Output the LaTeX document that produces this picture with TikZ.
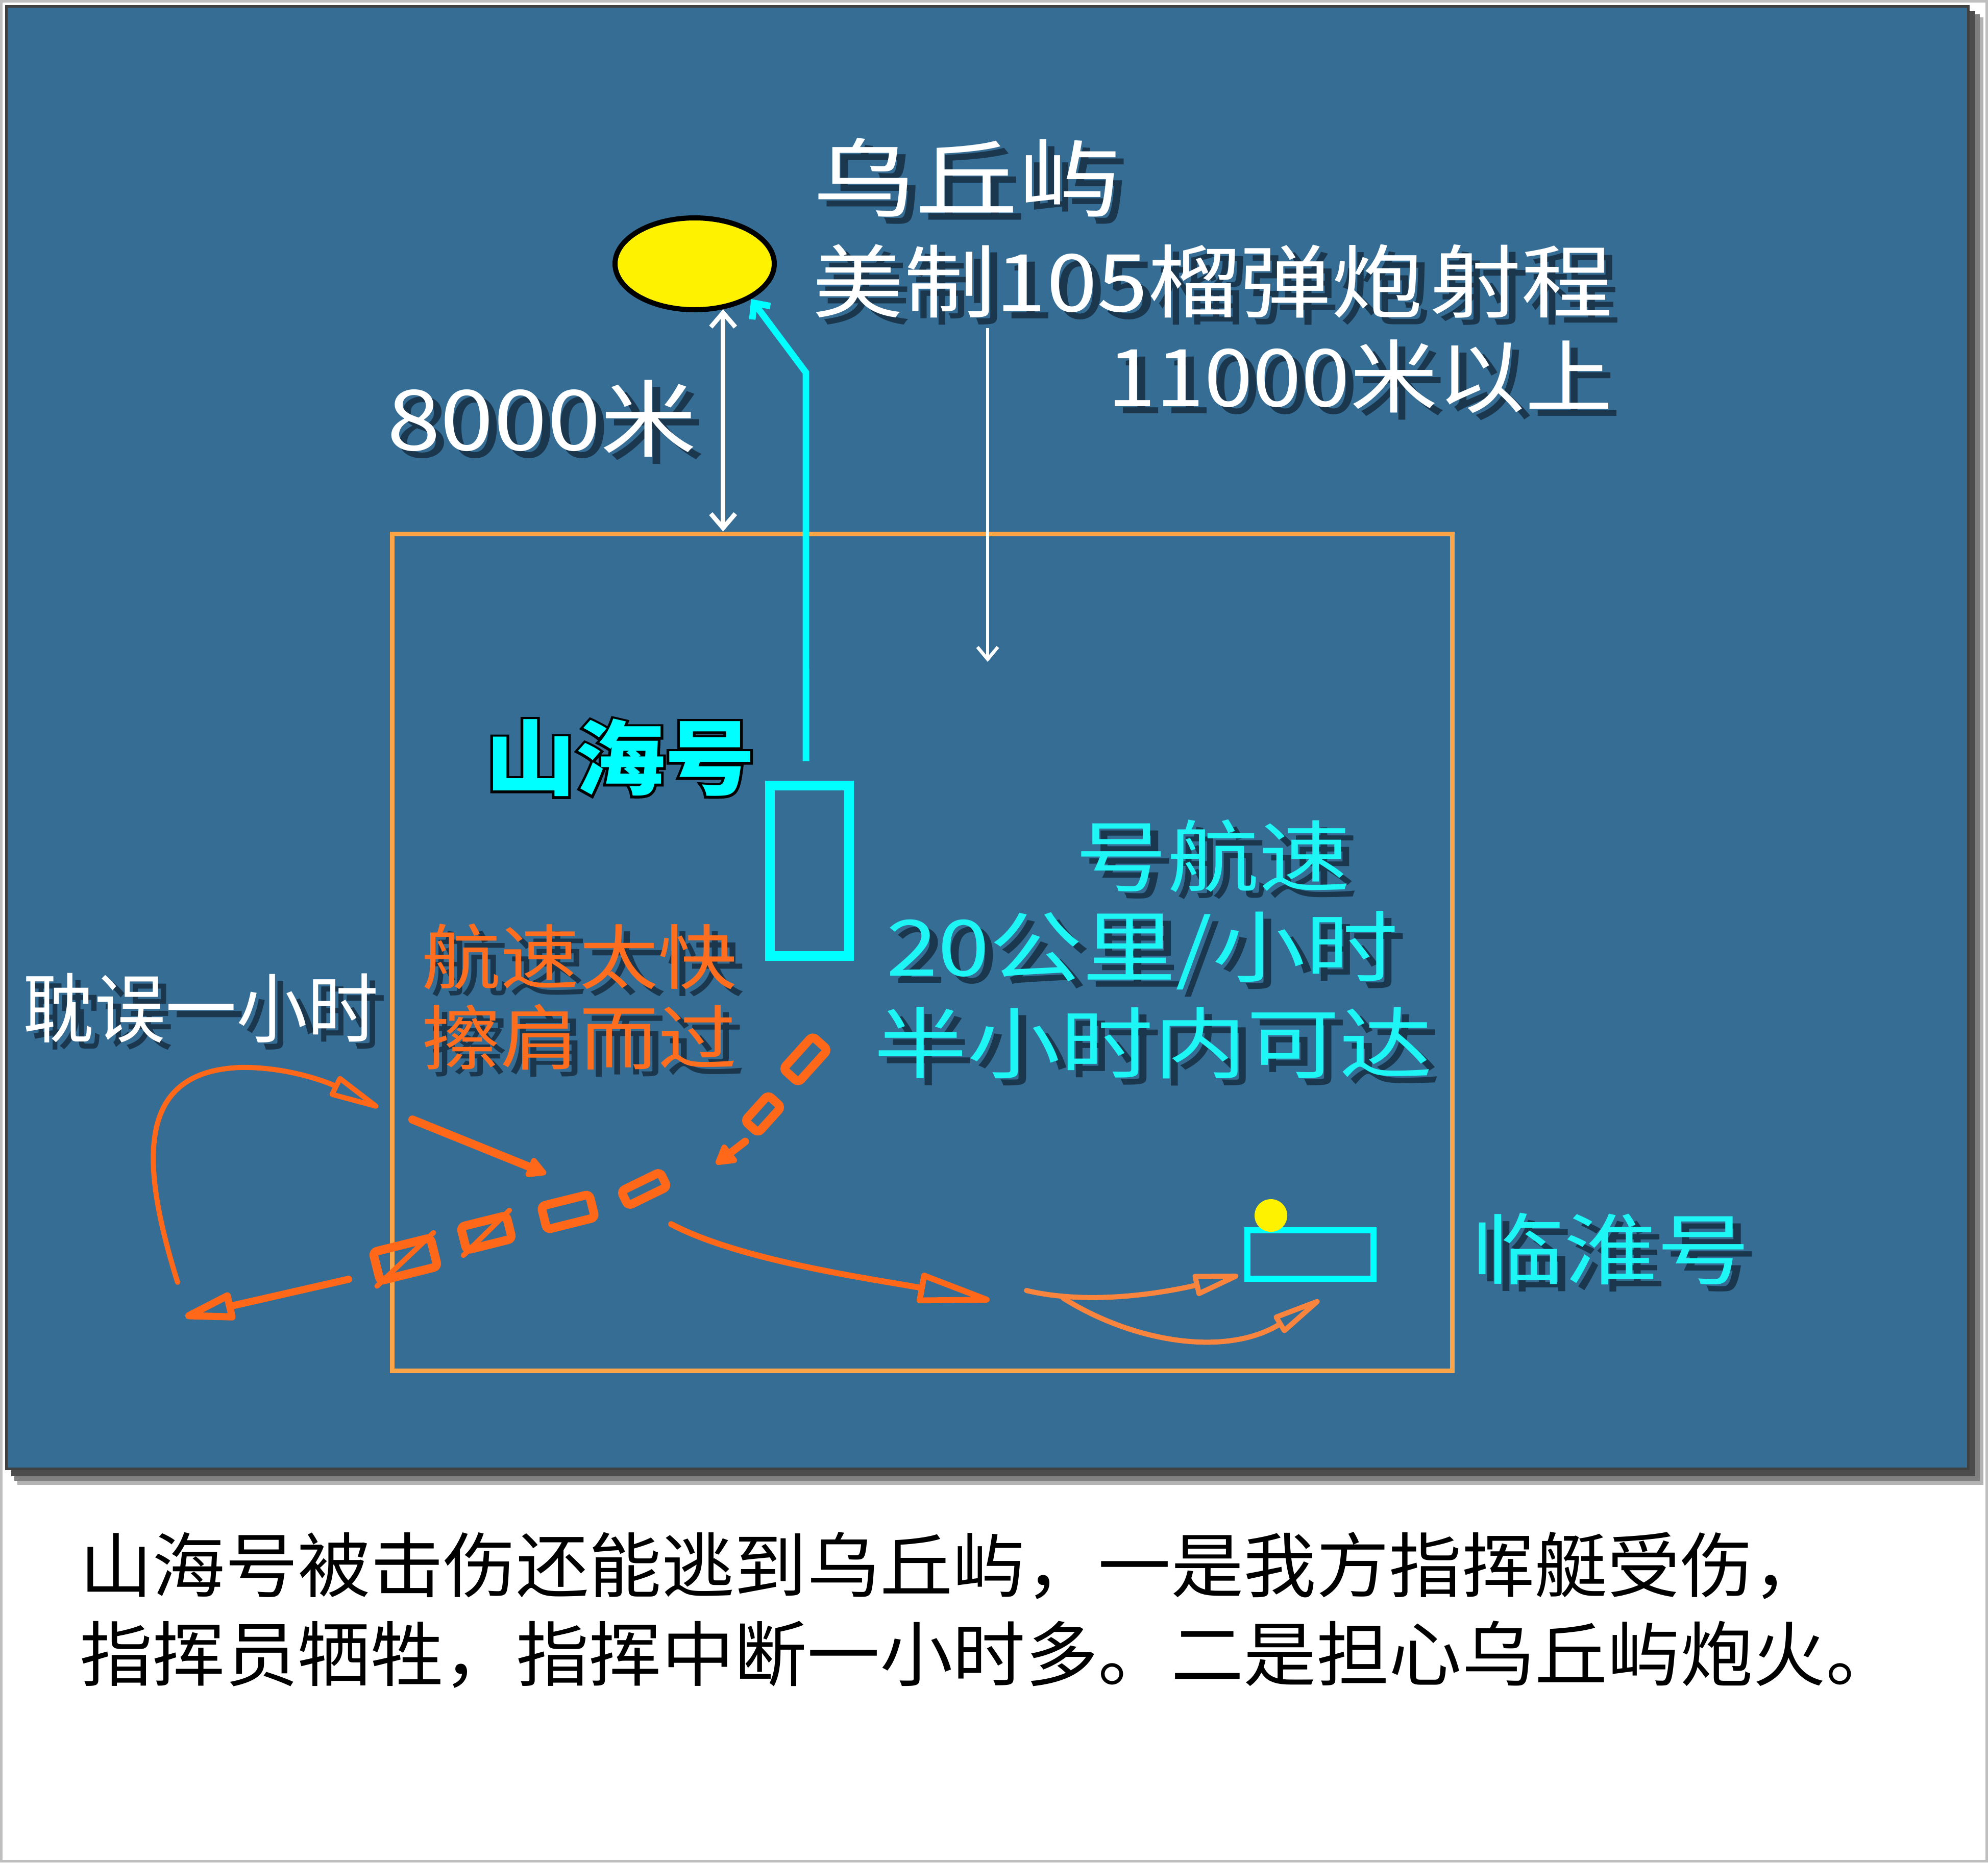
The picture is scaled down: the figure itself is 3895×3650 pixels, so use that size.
\documentclass[tikz,border=0pt]{standalone}
\usepackage{fontspec}
\usepackage{graphicx}
\usetikzlibrary{arrows.meta,shapes.geometric}
\setmainfont{Noto Sans CJK SC}
\newfontfamily\cjk{Noto Sans CJK SC}
\newfontfamily\cjkout{Noto Sans CJK SC}[FakeBold=6]
\definecolor{panelblue}{RGB}{54,109,149}
\definecolor{boxorange}{RGB}{250,166,72}
\definecolor{arrorange}{RGB}{255,104,24}
\definecolor{lightorange}{RGB}{248,132,62}
\definecolor{txtorange}{RGB}{255,110,30}
\definecolor{txtcyan}{RGB}{30,245,245}
\definecolor{shipcyan}{RGB}{0,255,255}
\definecolor{shadowc}{RGB}{22,46,66}
\newcommand{\sx}[2]{\scalebox{#1}[1]{#2}}
\newcommand{\shtext}[4]{%
  \node[#1, text=shadowc, text opacity=0.85, xshift=4pt, yshift=-3.5pt] at #3 {#4};
  \node[#1] (#2) at #3 {#4};
}
\begin{document}
\begin{tikzpicture}[x=0.25pt,y=-0.25pt,
  lbl/.style={inner sep=0pt, outer sep=0pt},
  dashship/.style={draw=arrorange, line width=4.25pt, rounded corners=2pt, inner sep=0pt, rectangle},
  arrO/.style={draw=arrorange, line width=2.5pt, line cap=round},
  arrL/.style={draw=lightorange, line width=2.5pt, line cap=round},
  whitearr/.style={draw=white, line width=2.2pt},
]
\useasboundingbox (0,0) rectangle (3895,3650);
\fill[white] (0,0) rectangle (3895,3650);
\draw[black!25, line width=1.25pt] (2.5,2.5) rectangle (3892.5,3647.5);
% panel shadow
\fill[black!30] (34,34) rectangle (3886,2910);
\fill[black!50] (28,28) rectangle (3879,2902);
\fill[black!70] (22,22) rectangle (3870,2893);
% panel
\filldraw[fill=panelblue, draw=black!75, line width=1.25pt] (12.5,12.5) rectangle (3856,2878);

% outer orange box
\node[draw=boxorange, line width=2.25pt, minimum width=519.25pt, minimum height=410pt, inner sep=0pt] (box) at (1806.5,1866) {};

% island
\node[ellipse, draw=black, fill=yellow, line width=2.5pt, minimum width=78pt, minimum height=45pt, inner sep=0pt] (island) at (1361,517) {};

% texts top
\shtext{lbl, text=white, anchor=west, font=\cjk\fontsize{42pt}{50pt}\selectfont}{wuqiu}{(1592,348)}{\sx{1.2}{乌丘屿}}
\shtext{lbl, text=white, anchor=east, font=\cjk\fontsize{39pt}{46pt}\selectfont}{range}{(3160,551)}{\sx{1.15}{美制105榴弹炮\hspace{3pt}射程}}
\shtext{lbl, text=white, anchor=east, font=\cjk\fontsize{39pt}{46pt}\selectfont}{rangeb}{(3160,738)}{\sx{1.1}{11000米以上}}
\shtext{lbl, text=white, anchor=west, font=\cjk\fontsize{41pt}{48pt}\selectfont}{dist}{(758,820)}{\sx{1.15}{8000米}}

% white double arrow island - box
\draw[whitearr, arrows={Straight Barb[length=7pt,width=12pt]-Straight Barb[length=7pt,width=12pt]}] (island.-58) -- (island.-58 |- box.north);

% white down arrow
\coordinate (downend) at (1935,1297);
\draw[whitearr, line width=1.6pt, arrows={-Straight Barb[length=6pt,width=10pt]}] ([yshift=-5pt]range.south -| downend) -- (downend);

% Shanhai ship
\node[draw=shipcyan, line width=4.75pt, minimum width=38.75pt, minimum height=83.5pt, inner sep=0pt] (shanhai) at (1585.5,1706) {};
\coordinate (kink) at (1579,730);
\draw[draw=shipcyan, line width=3.2pt, arrows={-Straight Barb[length=6pt,width=11pt]}] ([shift={(-1.6pt,9.5pt)}]shanhai.north) -- (kink) -- (island.-32);

% Shanhai label with black outline
\node[lbl, anchor=west, text=black, font=\cjkout\bfseries\fontsize{40pt}{48pt}\selectfont] at (951,1485) {\sx{1.1}{山海号}};
\node[lbl, anchor=west, text=shipcyan, font=\cjk\bfseries\fontsize{40pt}{48pt}\selectfont] (shanhaiLbl) at (951,1485) {\sx{1.1}{山海号}};

% cyan texts
\shtext{lbl, text=txtcyan, font=\cjk\fontsize{38pt}{46pt}\selectfont}{spd1}{(2377,1677)}{\sx{1.18}{号航速}}
\shtext{lbl, text=txtcyan, font=\cjk\fontsize{38pt}{46pt}\selectfont}{spd2}{(2238,1863)}{\sx{1.2}{20公里/小时}}
\shtext{lbl, text=txtcyan, font=\cjk\fontsize{38pt}{46pt}\selectfont}{spd3}{(2260,2044)}{\sx{1.2}{半小时内可达}}

% orange texts
\shtext{lbl, text=txtorange, anchor=west, font=\cjk\fontsize{34.5pt}{42pt}\selectfont}{fast1}{(826,1875)}{\sx{1.12}{航速太快}}
\shtext{lbl, text=txtorange, anchor=west, font=\cjk\fontsize{34.5pt}{42pt}\selectfont}{fast2}{(826,2032)}{\sx{1.12}{擦肩而过}}

% delay text
\shtext{lbl, text=white, anchor=west, font=\cjk\fontsize{37pt}{44pt}\selectfont}{delay}{(46,1975)}{\sx{0.94}{耽误一小时}}

% Linhuai ship
\node[draw=shipcyan, line width=2.9pt, minimum width=61.75pt, minimum height=23.75pt, inner sep=0pt] (linhuai) at (2567.5,2458.5) {};
\node[circle, fill=yellow, minimum size=16pt, inner sep=0pt] (flag) at (2490,2382) {};
\shtext{lbl, text=txtcyan, anchor=west, font=\cjk\fontsize{38pt}{46pt}\selectfont}{linhuaiLbl}{(2882,2447)}{\sx{1.2}{临淮号}}

% dashed ship trail (diagonal)
\node[dashship, minimum width=21.5pt, minimum height=10pt, rotate=48] (r1) at (1578,2076) {};
\node[dashship, minimum width=17pt, minimum height=8.75pt, rotate=48] (r2) at (1495,2183) {};
\draw[arrO, line width=3.75pt, arrows={-Triangle[length=11pt,width=12pt,round]}] (1460,2237) -- (1403,2281);

% dashed ship trail (row)
\node[dashship, minimum width=21.25pt, minimum height=8pt, rotate=26] (sa) at (1262,2330) {};
\node[dashship, minimum width=24.25pt, minimum height=11.75pt, rotate=14] (sb) at (1113,2375) {};
\node[dashship, minimum width=23pt, minimum height=11.75pt, rotate=14] (sc) at (953,2416) {};
\node[dashship, minimum width=29pt, minimum height=14.5pt, rotate=14] (sd) at (794,2468) {};
\draw[arrO, line width=2.5pt] (sc.south west) -- (sc.north east);
\draw[arrO, line width=2.5pt] (sd.south west) -- (sd.north east);

% straight thick arrow toward trail
\draw[arrO, line width=4pt, arrows={-Triangle[length=11pt,width=11pt,round]}] (808,2194) -- (1070,2300);

% left arrow
\draw[arrO, line width=3.5pt, arrows={-Triangle[open,round,length=30pt,width=14pt]}] (683,2507) -- (363,2580);

% loop arrow
\draw[arrO, arrows={-Triangle[open,round,length=30pt,width=11pt]}] (348,2513) .. controls (275,2280) and (265,2100) .. (470,2092) .. controls (560,2090) and (640,2120) .. (741,2170);

% curve to the right
\draw[arrO, line width=2.9pt, arrows={-Triangle[open,round,length=42pt,width=15pt]}] (1315,2399) .. controls (1450,2470) and (1700,2505) .. (1939,2548);

% curve to Linhuai
\draw[arrL, arrows={-Triangle[open,round,length=27pt,width=11pt]}] (2011,2529) .. controls (2120,2555) and (2250,2540) .. ([shift={(-3pt,3pt)}]linhuai.south west);

% lower curve
\draw[arrL, arrows={-Triangle[open,round,length=30pt,width=10pt]}] (2083,2544) .. controls (2220,2630) and (2400,2660) .. (2585,2548);

% caption
\node[lbl, anchor=west, text=black, font=\cjk\fontsize{34.6pt}{42pt}\selectfont] (cap1) at (156,3068) {\sx{1.03}{山海号被击伤还能逃到乌丘屿，一是我方指挥艇受伤，}};
\node[lbl, anchor=west, text=black, font=\cjk\fontsize{34.6pt}{42pt}\selectfont] (cap2) at (156,3242) {\sx{1.03}{指挥员牺牲，指挥中断一小时多。二是担心乌丘屿炮火。}};
\end{tikzpicture}
\end{document}
